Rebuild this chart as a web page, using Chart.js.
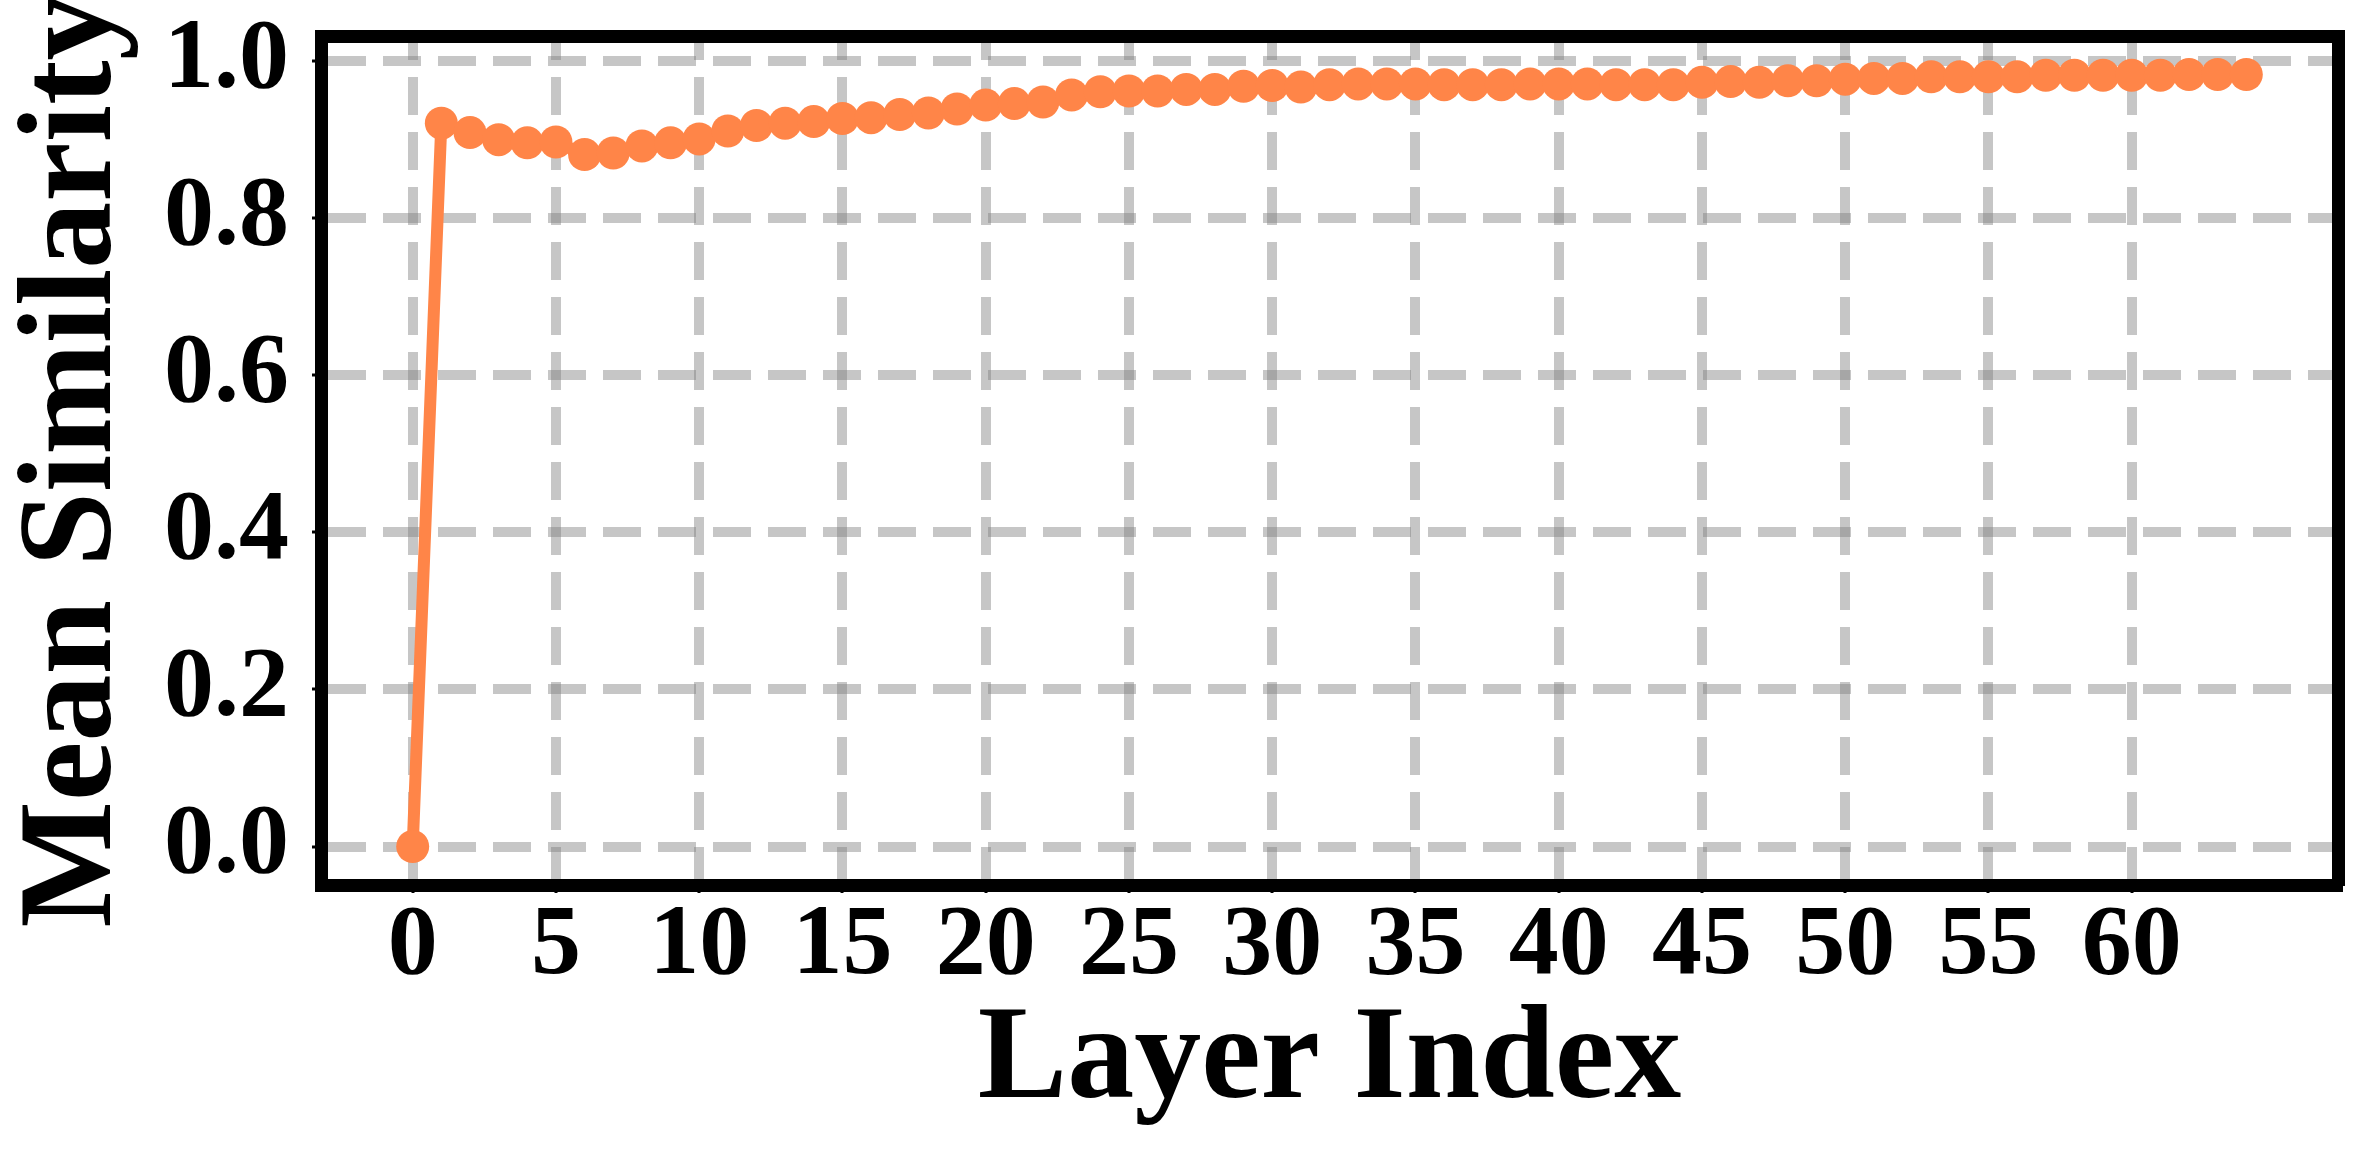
<!DOCTYPE html>
<html>
<head>
<meta charset="utf-8">
<script src="https://cdn.jsdelivr.net/npm/chart.js@4.4.1/dist/chart.umd.min.js"></script>
<style>
  html, body { margin: 0; padding: 0; background: #ffffff; }
  #wrap { width: 2367px; height: 1165px; }
</style>
</head>
<body>
<div id="wrap"><canvas id="simChart" width="2367" height="1165"></canvas></div>
<script>
// --- data ---
const layerIndex = [
  0, 1, 2, 3, 4, 5, 6, 7, 8, 9, 10, 11, 12, 13, 14, 15, 16, 17, 18, 19,
  20, 21, 22, 23, 24, 25, 26, 27, 28, 29, 30, 31, 32, 33, 34, 35, 36, 37, 38, 39,
  40, 41, 42, 43, 44, 45, 46, 47, 48, 49, 50, 51, 52, 53, 54, 55, 56, 57, 58, 59,
  60, 61, 62, 63, 64
];
const meanSimilarity = [
  0.000, 0.921, 0.909, 0.900, 0.896, 0.897, 0.881, 0.883, 0.892, 0.896,
  0.901, 0.911, 0.918, 0.921, 0.923, 0.927, 0.928, 0.932, 0.934, 0.939,
  0.944, 0.946, 0.948, 0.957, 0.961, 0.962, 0.962, 0.964, 0.964, 0.968,
  0.969, 0.967, 0.970, 0.971, 0.971, 0.971, 0.970, 0.970, 0.970, 0.971,
  0.971, 0.971, 0.970, 0.970, 0.970, 0.973, 0.974, 0.973, 0.975, 0.975,
  0.977, 0.978, 0.978, 0.980, 0.980, 0.980, 0.980, 0.982, 0.982, 0.982,
  0.982, 0.982, 0.983, 0.983, 0.983
];
const xTickValues = [0, 5, 10, 15, 20, 25, 30, 35, 40, 45, 50, 55, 60];
const yTickValues = [0.0, 0.2, 0.4, 0.6, 0.8, 1.0];

const ORANGE = '#FF8548';
const GRID = 'rgba(128,128,128,0.45)';
const SERIF = '"Liberation Serif", "Times New Roman", serif';

const points = layerIndex.map((x, i) => ({ x: x, y: meanSimilarity[i] }));

// no side padding from the tick labels, the frame is placed by hand
function noPad(s) {
  s.paddingTop = 0; s.paddingBottom = 0; s.paddingLeft = 0; s.paddingRight = 0;
}

new Chart(document.getElementById('simChart'), {
  type: 'line',
  data: {
    datasets: [{
      label: 'Mean Similarity',
      data: points,
      borderColor: ORANGE,
      backgroundColor: ORANGE,
      borderWidth: 12,
      pointRadius: 16.5,
      pointBackgroundColor: ORANGE,
      pointBorderWidth: 0,
      pointHoverRadius: 16.5,
      tension: 0,
      fill: false
    }]
  },
  options: {
    responsive: false,
    devicePixelRatio: 1,
    animation: false,
    layout: { autoPadding: false, padding: { top: 36, right: 29, left: 0, bottom: 0 } },
    plugins: { legend: { display: false }, tooltip: { enabled: false } },
    scales: {
      x: {
        type: 'linear',
        position: 'bottom',
        min: -3.2,
        max: 67.2,
        afterBuildTicks: s => { s.ticks = xTickValues.map(v => ({ value: v })); },
        afterFit: s => { s.height = 280; noPad(s); },
        grid: { color: GRID, lineWidth: 10, tickLength: 8, tickWidth: 3, tickColor: '#000' },
        border: { display: true, color: '#000', width: 13, dash: [38, 17], dashOffset: 14 },
        ticks: {
          color: '#000',
          padding: 4,
          maxRotation: 0,
          autoSkip: false,
          font: { family: SERIF, size: 100, weight: 'bold', lineHeight: 1 },
          callback: v => String(v)
        },
        title: {
          display: true,
          text: 'Layer Index',
          color: '#000',
          padding: { top: 0, bottom: 36 },
          font: { family: SERIF, size: 134, weight: 'bold', lineHeight: 1 }
        }
      },
      y: {
        type: 'linear',
        position: 'left',
        min: -0.049,
        max: 1.032,
        afterBuildTicks: s => { s.ticks = yTickValues.map(v => ({ value: v })); },
        afterFit: s => { s.width = 321; noPad(s); },
        grid: { color: GRID, lineWidth: 10, tickLength: 9, tickWidth: 3, tickColor: '#000' },
        border: { display: true, color: '#000', width: 13, dash: [38, 17], dashOffset: 0 },
        ticks: {
          color: '#000',
          padding: 23,
          autoSkip: false,
          font: { family: SERIF, size: 100, weight: 'bold', lineHeight: 1 },
          callback: v => v.toFixed(1)
        },
        title: {
          display: true,
          text: 'Mean Similarity',
          color: '#000',
          padding: { top: 8, bottom: 0 },
          font: { family: SERIF, size: 134, weight: 'bold', lineHeight: 1 }
        }
      },
      // top and right spines of the frame
      xTop: {
        type: 'linear',
        axis: 'x',
        position: 'top',
        afterFit: s => { s.height = 0; noPad(s); },
        grid: { display: false, drawTicks: false },
        ticks: { display: false },
        border: { display: true, color: '#000', width: 13 }
      },
      yRight: {
        type: 'linear',
        axis: 'y',
        position: 'right',
        afterFit: s => { s.width = 0; noPad(s); },
        grid: { display: false, drawTicks: false },
        ticks: { display: false },
        border: { display: true, color: '#000', width: 13 }
      }
    }
  }
});
</script>
</body>
</html>
